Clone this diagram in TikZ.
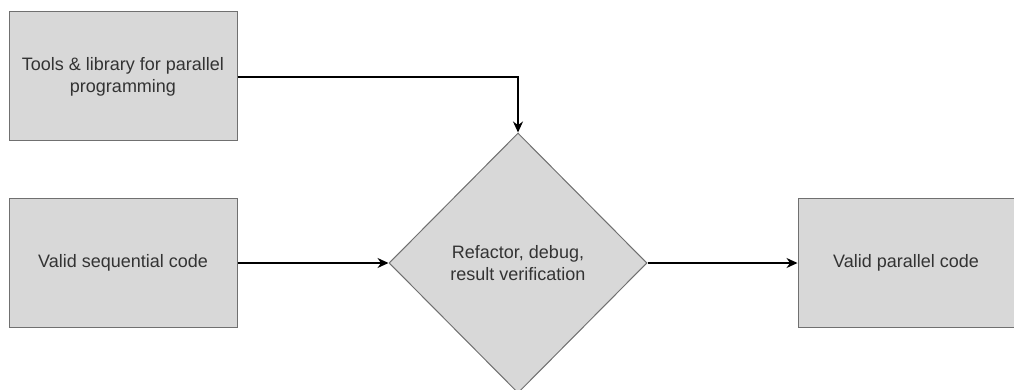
\documentclass[tikz,border=0pt]{standalone}
\usepackage{fontspec}
\setmainfont{Liberation Sans}
\usetikzlibrary{shapes.geometric,arrows.meta}
\definecolor{boxfill}{HTML}{D8D8D8}
\definecolor{boxline}{HTML}{707070}
\definecolor{txt}{HTML}{333333}
\begin{document}
\begin{tikzpicture}[x=1pt,y=-1pt,
  box/.style={draw=boxline,fill=boxfill,line width=1pt,rectangle,inner sep=0pt,
    minimum width=228pt,minimum height=129pt,align=center,text=txt,
    font=\fontsize{18}{22}\selectfont},
  dia/.style={draw=boxline,fill=boxfill,line width=1pt,diamond,inner sep=0pt,
    minimum width=258pt,minimum height=260pt,align=center,text=txt,
    font=\fontsize{18}{22}\selectfont},
  conn/.style={draw=black,line width=1.4pt,-{Stealth[length=11pt,width=10pt]}}]
\useasboundingbox (0,0) rectangle (1014,390);
\node[box] (tools) at (123,76.5) {Tools \& library for parallel\\programming};
\node[box] (seq) at (123,263) {Valid sequential code};
\node[dia] (ref) at (518,263) {Refactor, debug,\\result verification};
\node[box,minimum width=216pt] (par) at (906,263) {Valid parallel code};
\draw[conn] (tools.east |- 0,77) -| (ref.north);
\draw[conn] (seq.east) -- (ref.west);
\draw[conn] (ref.east) -- (par.west);
\end{tikzpicture}
\end{document}
